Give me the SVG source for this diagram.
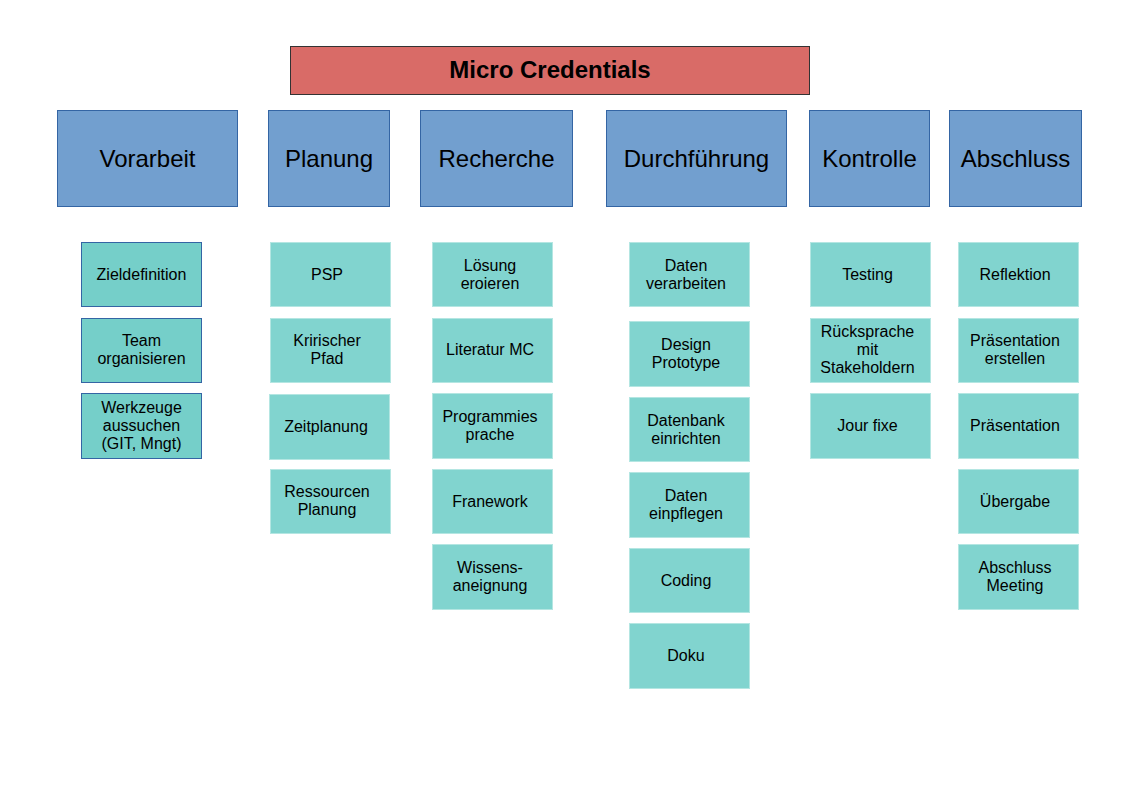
<svg xmlns="http://www.w3.org/2000/svg" width="1123" height="794" viewBox="0 0 1123 794">
<style>
text{font-family:"Liberation Sans",Arial,sans-serif;fill:#000;text-anchor:middle}
.title rect{fill:#d96b67;stroke:#333;stroke-width:1}
.title text{font-size:24px;font-weight:bold}
.hdr rect{fill:#729fcf;stroke:#3465a4;stroke-width:1}
.hdr text{font-size:24px}
.sub rect{fill:#81d4cf;stroke:#b4e6e2;stroke-width:1}
.subA rect{fill:#75cfc9;stroke:#3465a4;stroke-width:1}
.sub text,.subA text{font-size:16px}
</style>
<rect width="1123" height="794" fill="#fff"/>
<g id="title" class="title"><rect x="290.5" y="46.5" width="519" height="48"/><text x="550" y="78">Micro Credentials</text></g>

<g id="h-vorarbeit" class="hdr"><rect x="57.5" y="110.5" width="180" height="96"/><text x="147.5" y="166.5">Vorarbeit</text></g>
<g id="h-planung" class="hdr"><rect x="268.5" y="110.5" width="121" height="96"/><text x="329" y="166.5">Planung</text></g>
<g id="h-recherche" class="hdr"><rect x="420.5" y="110.5" width="152" height="96"/><text x="496.5" y="166.5">Recherche</text></g>
<g id="h-durchfuehrung" class="hdr"><rect x="606.5" y="110.5" width="180" height="96"/><text x="696.5" y="166.5">Durchführung</text></g>
<g id="h-kontrolle" class="hdr"><rect x="809.5" y="110.5" width="120" height="96"/><text x="869.5" y="166.5">Kontrolle</text></g>
<g id="h-abschluss" class="hdr"><rect x="949.5" y="110.5" width="132" height="96"/><text x="1015.5" y="166.5">Abschluss</text></g>

<g id="v1" class="subA"><rect x="81.5" y="242.5" width="120" height="64"/><text x="141.5" y="279.5">Zieldefinition</text></g>
<g id="v2" class="subA"><rect x="81.5" y="318.5" width="120" height="64"/><text x="141.5" y="346">Team</text><text x="141.5" y="364">organisieren</text></g>
<g id="v3" class="subA"><rect x="81.5" y="393.5" width="120" height="65"/><text x="141.5" y="413">Werkzeuge</text><text x="141.5" y="431">aussuchen</text><text x="141.5" y="449">(GIT, Mngt)</text></g>

<g id="p1" class="sub"><rect x="270.5" y="242.5" width="120" height="64"/><text x="327" y="279.5">PSP</text></g>
<g id="p2" class="sub"><rect x="270.5" y="318.5" width="120" height="64"/><text x="327" y="346">Kririscher</text><text x="327" y="364">Pfad</text></g>
<g id="p3" class="sub"><rect x="269.5" y="394.5" width="120" height="65"/><text x="326" y="431.5">Zeitplanung</text></g>
<g id="p4" class="sub"><rect x="270.5" y="469.5" width="120" height="64"/><text x="327" y="497">Ressourcen</text><text x="327" y="515">Planung</text></g>

<g id="r1" class="sub"><rect x="432.5" y="242.5" width="120" height="64"/><text x="490" y="271">Lösung</text><text x="490" y="289">eroieren</text></g>
<g id="r2" class="sub"><rect x="432.5" y="318.5" width="120" height="64"/><text x="490" y="355">Literatur MC</text></g>
<g id="r3" class="sub"><rect x="432.5" y="393.5" width="120" height="65"/><text x="490" y="422">Programmies</text><text x="490" y="440">prache</text></g>
<g id="r4" class="sub"><rect x="432.5" y="469.5" width="120" height="64"/><text x="490" y="507">Franework</text></g>
<g id="r5" class="sub"><rect x="432.5" y="544.5" width="120" height="65"/><text x="490" y="573">Wissens-</text><text x="490" y="591">aneignung</text></g>

<g id="d1" class="sub"><rect x="629.5" y="242.5" width="120" height="64"/><text x="686" y="271">Daten</text><text x="686" y="289">verarbeiten</text></g>
<g id="d2" class="sub"><rect x="629.5" y="321.5" width="120" height="65"/><text x="686" y="350">Design</text><text x="686" y="368">Prototype</text></g>
<g id="d3" class="sub"><rect x="629.5" y="397.5" width="120" height="64"/><text x="686" y="426">Datenbank</text><text x="686" y="444">einrichten</text></g>
<g id="d4" class="sub"><rect x="629.5" y="472.5" width="120" height="65"/><text x="686" y="501">Daten</text><text x="686" y="519">einpflegen</text></g>
<g id="d5" class="sub"><rect x="629.5" y="548.5" width="120" height="64"/><text x="686" y="586">Coding</text></g>
<g id="d6" class="sub"><rect x="629.5" y="623.5" width="120" height="65"/><text x="686" y="661">Doku</text></g>

<g id="k1" class="sub"><rect x="810.5" y="242.5" width="120" height="64"/><text x="867.5" y="279.5">Testing</text></g>
<g id="k2" class="sub"><rect x="810.5" y="318.5" width="120" height="64"/><text x="867.5" y="337">Rücksprache</text><text x="867.5" y="355">mit</text><text x="867.5" y="373">Stakeholdern</text></g>
<g id="k3" class="sub"><rect x="810.5" y="393.5" width="120" height="65"/><text x="867.5" y="431">Jour fixe</text></g>

<g id="a1" class="sub"><rect x="958.5" y="242.5" width="120" height="64"/><text x="1015" y="279.5">Reflektion</text></g>
<g id="a2" class="sub"><rect x="958.5" y="318.5" width="120" height="64"/><text x="1015" y="346">Präsentation</text><text x="1015" y="364">erstellen</text></g>
<g id="a3" class="sub"><rect x="958.5" y="393.5" width="120" height="65"/><text x="1015" y="431">Präsentation</text></g>
<g id="a4" class="sub"><rect x="958.5" y="469.5" width="120" height="64"/><text x="1015" y="507">Übergabe</text></g>
<g id="a5" class="sub"><rect x="958.5" y="544.5" width="120" height="65"/><text x="1015" y="573">Abschluss</text><text x="1015" y="591">Meeting</text></g>

<g id="connectors"></g>
</svg>
